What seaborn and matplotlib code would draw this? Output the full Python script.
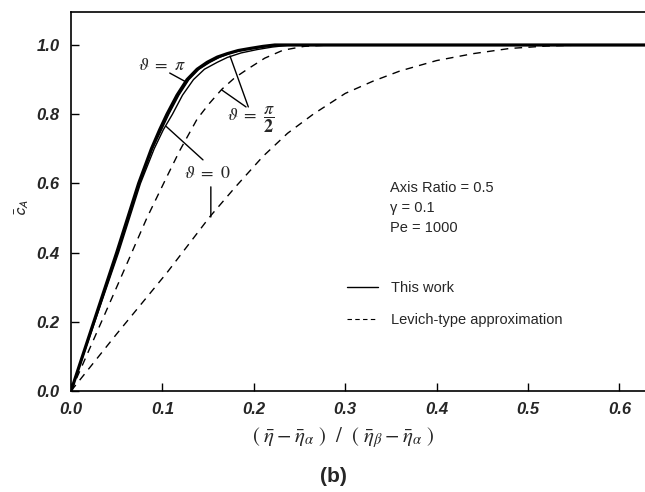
import numpy as np
import pandas as pd
import matplotlib
matplotlib.use("Agg")
import matplotlib.pyplot as plt
from matplotlib.lines import Line2D
import seaborn as sns

# Concentration profiles c_A vs normalised coordinate
x_pi = [0, 0.025, 0.05, 0.074, 0.088, 0.097, 0.105, 0.116, 0.127, 0.138, 0.149, 0.160, 0.171, 0.183, 0.196, 0.210, 0.223, 0.63]
y_pi = [0, 0.20, 0.40, 0.60, 0.70, 0.755, 0.80, 0.855, 0.90, 0.93, 0.95, 0.965, 0.975, 0.984, 0.99, 0.996, 1.0, 1.0]

x_half = [0, 0.0255, 0.051, 0.075, 0.089, 0.099, 0.107, 0.118, 0.129, 0.140, 0.152, 0.163, 0.175, 0.190, 0.210, 0.230, 0.63]
y_half = [0, 0.20, 0.40, 0.60, 0.70, 0.755, 0.80, 0.855, 0.90, 0.93, 0.95, 0.965, 0.977, 0.987, 0.995, 1.0, 1.0]

x_zero = [0, 0.026, 0.052, 0.076, 0.091, 0.101, 0.111, 0.122, 0.134, 0.146, 0.160, 0.171, 0.186, 0.204, 0.220, 0.240, 0.63]
y_zero = [0, 0.20, 0.40, 0.60, 0.70, 0.755, 0.80, 0.855, 0.90, 0.93, 0.95, 0.964, 0.977, 0.987, 0.994, 1.0, 1.0]

# Levich-type approximation
x_lev_half = [0, 0.027, 0.0536, 0.083, 0.105, 0.119, 0.138, 0.151, 0.165, 0.179, 0.193, 0.212, 0.232, 0.255, 0.283, 0.63]
y_lev_half = [0, 0.162, 0.322, 0.50, 0.62, 0.695, 0.786, 0.83, 0.872, 0.905, 0.930, 0.962, 0.985, 0.996, 1.0, 1.0]

x_lev_zero = [0, 0.05, 0.105, 0.152, 0.18, 0.21, 0.237, 0.265, 0.30, 0.33, 0.36, 0.40, 0.44, 0.48, 0.52, 0.56, 0.63]
y_lev_zero = [0, 0.165, 0.342, 0.504, 0.59, 0.678, 0.745, 0.80, 0.86, 0.895, 0.925, 0.955, 0.975, 0.99, 0.997, 1.0, 1.0]

x_ticks = [0.0, 0.1, 0.2, 0.3, 0.4, 0.5, 0.6]
y_ticks = [0.0, 0.2, 0.4, 0.6, 0.8, 1.0]

sns.set_theme(style="ticks")
plt.rcParams["font.family"] = ["Liberation Sans", "DejaVu Sans"]
plt.rcParams["mathtext.fontset"] = "stix"

fig = plt.figure(figsize=(6.45, 4.92), dpi=100)
ax = fig.add_axes([71 / 645, 1 - 391 / 492, 1 - 71 / 645, (391 - 12) / 492])

curves = [
    (x_pi, y_pi, "-", 2.3),
    (x_half, y_half, "-", 1.0),
    (x_zero, y_zero, "-", 1.0),
    (x_lev_half, y_lev_half, "--", 1.0),
    (x_lev_zero, y_lev_zero, "--", 1.0),
]
for xs, ys, ls, lw in curves:
    df = pd.DataFrame({"x": xs, "y": ys})
    sns.lineplot(data=df, x="x", y="y", ax=ax, color="black", linewidth=lw,
                 estimator=None, sort=False, legend=False)
    line = ax.lines[-1]
    if ls == "--":
        line.set_dashes((5.5, 4.5))

ax.set_xlim(0, (645 - 71) / 914)
ax.set_ylim(0, (391 - 12) / 346)
ax.set_xticks(x_ticks)
ax.set_yticks(y_ticks)
ax.set_xticklabels([f"{v:.1f}" for v in x_ticks])
ax.set_yticklabels([f"{v:.1f}" for v in y_ticks])
ax.tick_params(direction="in", length=6, width=1, labelsize=12, color="black")
ax.tick_params(axis="y", pad=8)
ax.tick_params(axis="x", pad=8)
for lab in ax.get_xticklabels() + ax.get_yticklabels():
    lab.set_fontweight("bold")
    lab.set_fontstyle("italic")
ax.set_xlabel("")
ax.set_ylabel("")
for side in ("left", "bottom", "top"):
    ax.spines[side].set_linewidth(1.2)
    ax.spines[side].set_color("black")
ax.spines["right"].set_visible(False)

# Curve labels with leader lines
lab_kw = dict(ha="center", va="center", fontsize=13)
ax.text(0.0996, 0.942, r"$\vartheta\ =\ \pi$", **lab_kw)
ax.text(0.197, 0.783, r"$\vartheta\ =\ \dfrac{\pi}{\mathbf{2}}$", **lab_kw)
ax.text(0.149, 0.630, r"$\vartheta\ =\ 0$", **lab_kw)

leader = dict(arrowstyle="-", lw=1.0, color="black", shrinkA=0, shrinkB=0)
ax.annotate("", xy=(0.126, 0.893), xytext=(0.108, 0.919), arrowprops=leader)
ax.annotate("", xy=(0.174, 0.968), xytext=(0.194, 0.821), arrowprops=leader)
ax.annotate("", xy=(0.165, 0.870), xytext=(0.1915, 0.821), arrowprops=leader)
ax.annotate("", xy=(0.104, 0.765), xytext=(0.1444, 0.668), arrowprops=leader)
ax.annotate("", xy=(0.153, 0.503), xytext=(0.153, 0.590), arrowprops=leader)

# Parameters
par_kw = dict(ha="left", va="center", fontsize=10.5)
ax.text(0.349, 0.587, "Axis Ratio = 0.5", **par_kw)
ax.text(0.349, 0.529, "γ = 0.1", **par_kw)
ax.text(0.349, 0.471, "Pe = 1000", **par_kw)

handles = [
    Line2D([], [], color="black", lw=1.0, ls="-"),
    Line2D([], [], color="black", lw=0.8, dashes=(4, 3)),
]
ax.legend(handles, ["This work", "Levich-type approximation"],
          loc="upper left", bbox_to_anchor=(347 / 645, 1 - 281 / 492),
          bbox_transform=fig.transFigure, frameon=False, fontsize=10.5,
          handlelength=2.1, handletextpad=0.9, labelspacing=1.25,
          borderpad=0, borderaxespad=0)

fig.text(22 / 645, 1 - 207 / 492, r"$\bar{\mathsf{c}}_{\mathsf{A}}$",
         rotation=90, ha="center", va="center", fontsize=12)
fig.text(343 / 645, 1 - 438 / 492,
         r"$(\ \bar{\eta}-\bar{\eta}_{\alpha}\ )\ \ /\ \ (\ \bar{\eta}_{\beta}-\bar{\eta}_{\alpha}\ )$",
         ha="center", va="center", fontsize=15)
fig.text(333 / 645, 1 - 476 / 492, "(b)", ha="center", va="center",
         fontsize=15, fontweight="bold")

fig.savefig("out.png", dpi=100)
